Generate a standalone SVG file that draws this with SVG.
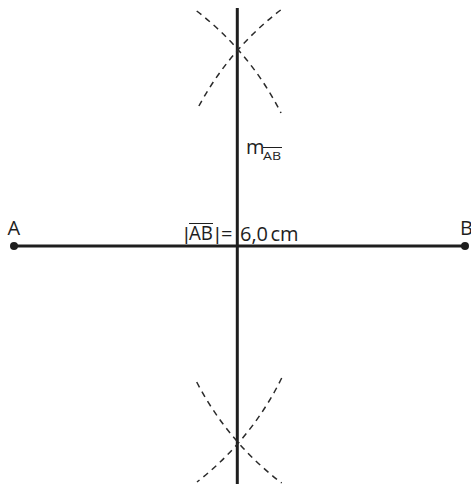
<svg xmlns="http://www.w3.org/2000/svg" width="471" height="484" viewBox="0 0 471 484">
<style>
.main{stroke:#1e1e1e;stroke-width:3;fill:none}
.arc{stroke:#2a2a2a;stroke-width:1.5;fill:none;stroke-dasharray:6 5}
.t{font-family:"Open Sans","Noto Sans",sans-serif;fill:#1e1e1e;font-size:20px}
.bar{font-family:"Liberation Sans",sans-serif;font-size:18px}
.ov{stroke:#1e1e1e;stroke-width:1}
</style>
<rect width="471" height="484" fill="#fff"/>
<g id="connectors">
<line class="main" x1="14" y1="246" x2="465" y2="246"/>
<line class="main" x1="237.3" y1="8" x2="237.3" y2="484"/>
<path class="arc" d="M196.7,11 A298,298 0 0,1 281,113"/>
<path class="arc" d="M280.7,10 A300,300 0 0,0 197.3,109"/>
<path class="arc" d="M281.7,378 A298,298 0 0,1 197,482"/>
<path class="arc" d="M196.7,382 A300,300 0 0,0 281.7,483"/>
</g>
<g id="A">
<circle cx="14" cy="246" r="4" fill="#1e1e1e"/>
<text class="t" x="7.5" y="235">A</text>
</g>
<g id="B">
<circle cx="465" cy="246" r="4" fill="#1e1e1e"/>
<text class="t" x="460" y="235">B</text>
</g>
<g id="m-label">
<text class="t" x="246" y="154">m<tspan x="263" y="160" font-size="11.5" textLength="18" lengthAdjust="spacingAndGlyphs">AB</tspan></text>
<line class="ov" x1="263" y1="147.5" x2="282" y2="147.5"/>
</g>
<g id="length-label">
<text class="t" y="240"><tspan class="bar" x="184">|</tspan><tspan x="189" textLength="24" lengthAdjust="spacingAndGlyphs">AB</tspan><tspan class="bar" x="215">|</tspan><tspan x="221" y="241">=</tspan><tspan x="240" y="241">6,0</tspan><tspan x="270.5" y="241">cm</tspan></text>
<line class="ov" x1="189" y1="223.5" x2="213" y2="223.5"/>
</g>
</svg>
